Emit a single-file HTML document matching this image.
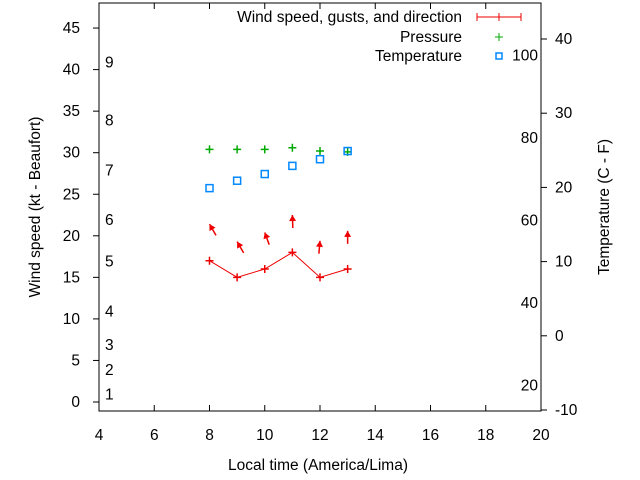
<!DOCTYPE html>
<html><head><meta charset="utf-8"><style>
body{margin:0;background:#fff}
svg{display:block;font-family:"Liberation Sans",sans-serif;font-size:15.5px}
</style></head><body>
<svg id="chart" width="640" height="480" viewBox="0 0 640 480">
<g id="axes"></g><g id="marks"></g>
</svg>
<script>
const hours=[8,9,10,11,12,13];
const windSpeed=[17,15,16,18,15,16];
const gustSpeed=[21.4,19.3,20.4,22.5,19.4,20.6];
const windDirDeg=[330,330,340,358,5,0];
const pressure=[30.4,30.4,30.4,30.6,30.2,30.1];
const temperatureC=[19.9,20.9,21.8,22.9,23.8,24.9];
const xTicks=[4,6,8,10,12,14,16,18,20];
const leftTicks=[0,5,10,15,20,25,30,35,40,45];
const rightTicks=[-10,0,10,20,30,40];
const beaufortLabels=["1","2","3","4","5","6","7","8","9"];
const beaufortKt=[1,4,7,11,17,22,28,34,41];
const fahrenheitTicks=[20,40,60,80,100];

const L=99,R=541,T=3,B=411;
const x=v=>L+(v-4)/16*(R-L);
const yl=v=>402-v*8.31;
const yr=v=>410-(v+10)*7.42;
const NS="http://www.w3.org/2000/svg";
const ax=document.getElementById('axes'),mk=document.getElementById('marks');
function el(p,tag,attrs){const e=document.createElementNS(NS,tag);for(const k in attrs)e.setAttribute(k,attrs[k]);p.appendChild(e);return e;}
function txt(p,s,x0,y0,anchor,extra){const t=el(p,'text',Object.assign({x:x0,y:y0,'text-anchor':anchor||'middle'},extra||{}));t.textContent=s;return t;}

const frame=el(ax,'rect',{x:L,y:T,width:R-L,height:B-T,fill:'none',stroke:'#000'});


xTicks.forEach(v=>{
  el(ax,'line',{x1:x(v),x2:x(v),y1:B,y2:B-6,stroke:'#000'});
  el(ax,'line',{x1:x(v),x2:x(v),y1:T,y2:T+6,stroke:'#000'});
  const t=txt(ax,String(v),x(v),440);
  
  
});
leftTicks.forEach(v=>{
  el(ax,'line',{x1:L-6,x2:L,y1:yl(v),y2:yl(v),stroke:'#000'});
  const t=txt(ax,String(v),80,yl(v)+5,'end');
  
  
});
rightTicks.forEach(v=>{
  el(ax,'line',{x1:R,x2:R+6,y1:yr(v),y2:yr(v),stroke:'#000'});
  const t=txt(ax,String(v),555,yr(v)+5,'start');
  
  
});
beaufortLabels.forEach((s,i)=>{
  const t=txt(ax,s,105,yl(beaufortKt[i])+6,'start');
  
  
});
fahrenheitTicks.forEach(f=>{
  const c=(f-32)/1.8;
  const t=txt(ax,String(f),538,yr(c)+5,'end');
  
  
});
let t;
t=txt(ax,'Local time (America/Lima)',318,470);

t=txt(ax,'Wind speed (kt - Beaufort)',0,0,'middle',{transform:'translate(40,207) rotate(-90)'});

t=txt(ax,'Temperature (C - F)',0,0,'middle',{transform:'translate(609,207) rotate(-90)'});


// legend
t=txt(ax,'Wind speed, gusts, and direction',462,22,'end');
el(ax,'path',{d:'M477 17H521M477 13V21M499 13V21M521 13V21',stroke:'#e00',fill:'none'});
t=txt(ax,'Pressure',462,42,'end');
el(ax,'path',{d:'M499 33V41M495 37H503',stroke:'#0a0'});
t=txt(ax,'Temperature',462,61,'end');
el(ax,'rect',{x:496,y:53,width:6,height:6,fill:'none',stroke:'#08f','stroke-width':1.5});

// wind line
let pts=hours.map((h,i)=>x(h)+','+yl(windSpeed[i])).join(' ');
const ln=el(mk,'polyline',{points:pts,fill:'none',stroke:'#e00'});

hours.forEach((h,i)=>{
  const cx=x(h),cy=yl(windSpeed[i]);
  const p=el(mk,'path',{d:`M${cx-4} ${cy}H${cx+4}M${cx} ${cy-4}V${cy+4}`,stroke:'#e00','stroke-width':1.5});
  
  const a=windDirDeg[i]*Math.PI/180,hx=cx,hy=yl(gustSpeed[i]);
  const dx=Math.sin(a),dy=-Math.cos(a),len=13;
  const tx=hx-dx*len,ty=hy-dy*len;
  const px=-dy,py=dx;
  const g=el(mk,'g',{});
  
  el(g,'line',{x1:tx,y1:ty,x2:hx,y2:hy,stroke:'#e00','stroke-width':1.5});
  el(g,'polygon',{points:`${hx},${hy} ${hx-dx*6+px*3.5},${hy-dy*6+py*3.5} ${hx-dx*6-px*3.5},${hy-dy*6-py*3.5}`,fill:'#e00'});
  const py2=yl(pressure[i]);
  const pp=el(mk,'path',{d:`M${cx-4} ${py2}H${cx+4}M${cx} ${py2-4}V${py2+4}`,stroke:'#0a0','stroke-width':1.5});
  
  const ty2=yr(temperatureC[i]);
  const sq=el(mk,'rect',{x:cx-3.5,y:ty2-3.5,width:7,height:7,fill:'none',stroke:'#08f','stroke-width':1.5});
  
});
</script>
</body></html>
